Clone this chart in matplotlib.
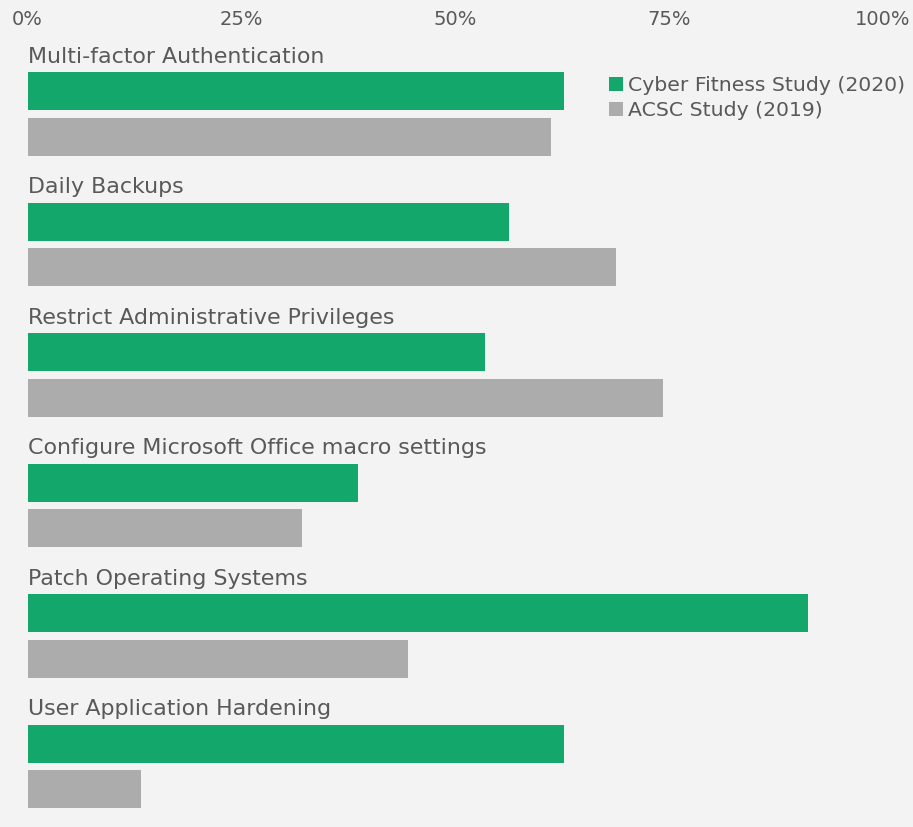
import matplotlib
matplotlib.use("Agg")
import matplotlib.pyplot as plt
from matplotlib.patches import Patch

# share of organisations implementing each control (%)
controls = [
    "Multi-factor Authentication",
    "Daily Backups",
    "Restrict Administrative Privileges",
    "Configure Microsoft Office macro settings",
    "Patch Operating Systems",
    "User Application Hardening",
]
cyber_fitness_2020 = [62.7, 56.3, 53.5, 38.7, 91.3, 62.7]
acsc_2019 = [61.2, 68.8, 74.3, 32.1, 44.5, 13.3]
series_names = ["Cyber Fitness Study (2020)", "ACSC Study (2019)"]
ticks = [0, 25, 50, 75, 100]
tick_labels = ["0%", "25%", "50%", "75%", "100%"]

BG = "#f3f3f3"
GREEN = "#14a76c"
GREY = "#acacac"
TEXT = "#595959"

fig = plt.figure(figsize=(9.13, 8.27), dpi=100, facecolor=BG)
ax = fig.add_axes([27.5 / 913, 0, 855 / 913, 1])
ax.set_facecolor(BG)

off = 0.176
h = 0.291
for i, name in enumerate(controls):
    ax.barh(i - off, cyber_fitness_2020[i], height=h, color=GREEN, left=0)
    ax.barh(i + off, acsc_2019[i], height=h, color=GREY, left=0)
    ax.text(0.0, i - 0.437, name, ha="left", va="center",
            fontsize=15.9, color=TEXT)

ax.set_xlim(0, 100)
ax.set_ylim(5.4636, -0.8736)
ax.set_yticks([])
ax.set_xticks([])
for side in ax.spines.values():
    side.set_visible(False)

# percentage scale along the top
for t, lab in zip(ticks, tick_labels):
    ax.text(t, -0.727, lab, ha="center", va="center", fontsize=14, color=TEXT)

handles = [Patch(facecolor=GREEN), Patch(facecolor=GREY)]
fig.legend(handles, series_names, loc="upper left",
           bbox_to_anchor=(609 / 913, 1 - 76 / 827), frameon=False,
           fontsize=14.7, labelcolor=TEXT, handlelength=0.7, handleheight=0.7,
           handletextpad=0.25, labelspacing=0.3, borderpad=0, borderaxespad=0)

fig.savefig("out.png", dpi=100, facecolor=BG)
